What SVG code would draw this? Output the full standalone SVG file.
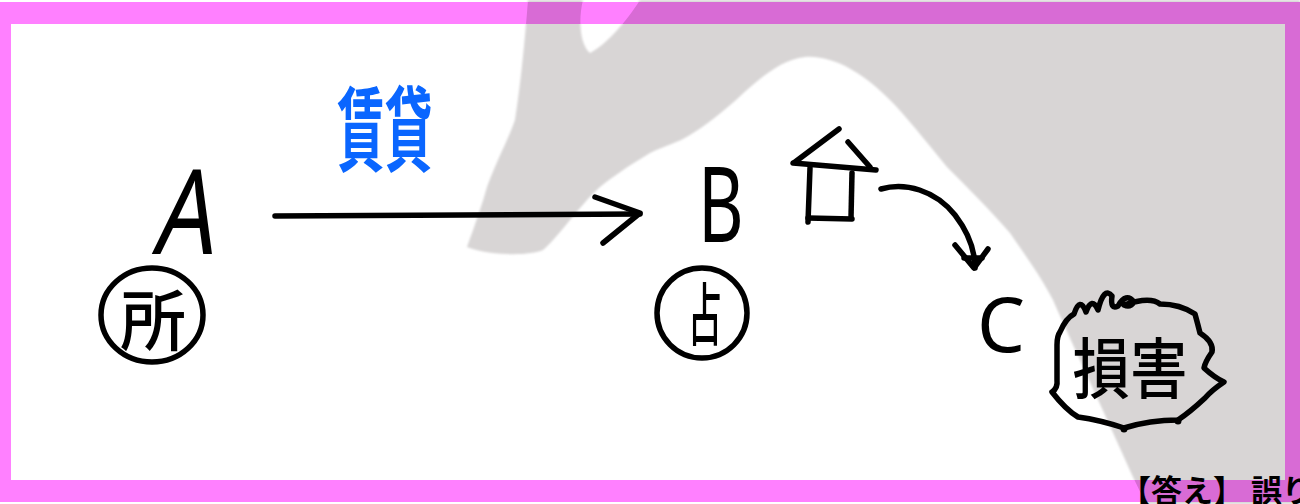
<svg xmlns="http://www.w3.org/2000/svg" width="1300" height="504" viewBox="0 0 1300 504">
  <style>
    .ink { fill: none; stroke: #000; stroke-width: 5.5; stroke-linecap: round; stroke-linejoin: round; }
    .hand { font-family: "Noto Sans CJK JP", "Noto Sans", sans-serif; fill: #000; }
    .latin { font-family: "Noto Sans", "Liberation Sans", sans-serif; font-weight: 400; fill: #000; }
    .answer { font-family: "Noto Sans CJK JP", sans-serif; font-weight: bold; font-size: 31px; fill: #000; }
  </style>
  <defs>
    <path id="silhouette" d="M528,0 L583,0 C578,20 580,45 590,53 C606,45 626,22 640,0 L1300,0 L1300,504 L1146,504 L1133,477 C1110,425 1075,350 1053,300 C1040,275 1025,255 1010,233 C990,210 970,190 947,167 C925,140 905,115 890,100 C865,75 835,55 805,57 C780,60 760,78 736,100 C715,118 700,130 681,140 C665,147 660,148 650,153 C630,165 615,175 600,187 C588,198 580,208 570,220 C560,232 552,242 543,250 C530,256 490,256 467,247 C475,225 482,205 487,187 C497,160 508,140 515,120 C520,90 525,40 528,0 Z"/>
    <clipPath id="silClip"><use href="#silhouette"/></clipPath>
    <filter id="soft" x="-5%" y="-5%" width="110%" height="110%"><feGaussianBlur stdDeviation="1.2"/></filter>
  </defs>

  <rect x="0" y="0" width="1300" height="504" fill="#fff"/>
  <g id="background-silhouette">
    <use href="#silhouette" fill="#d8d5d5" filter="url(#soft)"/>
  </g>
  <g id="frame">
    <path fill="#ff80ff" fill-rule="evenodd" d="M0,2 H1300 V502 H0 Z M11,24 V480 H1285 V24 Z"/>
    <path fill="#d86bd5" fill-rule="evenodd" clip-path="url(#silClip)" d="M0,2 H1300 V502 H0 Z M11,24 V480 H1285 V24 Z"/>
  </g>

  <g id="connectors">
    <g id="lease-arrow">
      <path class="ink" d="M275,216 L640,214"/>
      <path class="ink" d="M595,197 L640,213 L603,243"/>
      <text id="lease-label" transform="translate(337,164) scale(0.52,1)" font-family="Noto Sans CJK JP, sans-serif" font-weight="bold" font-size="92" fill="#0a66ff">賃貸</text>
    </g>
    <g id="damage-arrow">
      <path class="ink" d="M881,189 C905,182 935,190 955,215 C968,232 975,250 975,268"/>
      <path class="ink" d="M955,245 L974,268 L988,249"/>
      <path class="ink" d="M964,258 L982,258" stroke-width="4"/>
    </g>
  </g>

  <g id="node-A">
    <text class="latin" transform="translate(182,254) skewX(-10) scale(0.8,1)" text-anchor="middle" font-size="118">A</text>
    <ellipse class="ink" cx="152" cy="315" rx="51" ry="47"/>
    <text class="hand" x="153" y="345" text-anchor="middle" font-size="66" font-weight="500">所</text>
  </g>

  <g id="node-B">
    <text class="latin" transform="translate(698,242) scale(0.67,1)" font-size="105">B</text>
    <ellipse class="ink" cx="702" cy="313" rx="45" ry="45"/>
    <text class="hand" transform="translate(705,340) scale(0.5,1)" text-anchor="middle" font-size="68" font-weight="500">占</text>
  </g>

  <g id="house">
    <path class="ink" d="M795,162 L839,129"/>
    <path class="ink" d="M848,142 L870,167"/>
    <path class="ink" d="M793,163 L876,170"/>
    <path class="ink" d="M810,168 L808,222"/>
    <path class="ink" d="M852,173 L851,218"/>
    <path class="ink" d="M808,218 L852,219"/>
  </g>

  <g id="node-C">
    <text class="latin" x="977" y="352" font-size="76">C</text>
  </g>

  <g id="damage">
    <path class="ink" d="M1060,332 Q1066,318 1074,314 Q1080,296 1086,312 Q1092,296 1098,310 Q1104,286 1112,296 Q1110,310 1118,306 Q1126,292 1134,302 Q1130,308 1124,305 Q1150,296 1160,304 Q1180,304 1195,314 Q1198,325 1200,333 Q1214,342 1212,352 Q1205,362 1204,368 Q1215,378 1224,382 Q1212,390 1205,398 Q1190,412 1178,420 Q1150,420 1124,428 Q1100,420 1078,417 Q1066,410 1052,392 Q1058,388 1057,380 L1057,345 Q1057,336 1060,332 Z"/>
    <circle cx="1124" cy="429" r="3.5"/>
    <circle cx="1178" cy="421" r="3.5"/>
    <text class="hand" transform="translate(1130,393) scale(0.87,1)" text-anchor="middle" font-size="66" font-weight="500">損害</text>
  </g>

  <g id="answer">
    <text class="answer" x="1120" y="502">【答え】 誤り</text>
  </g>
</svg>
